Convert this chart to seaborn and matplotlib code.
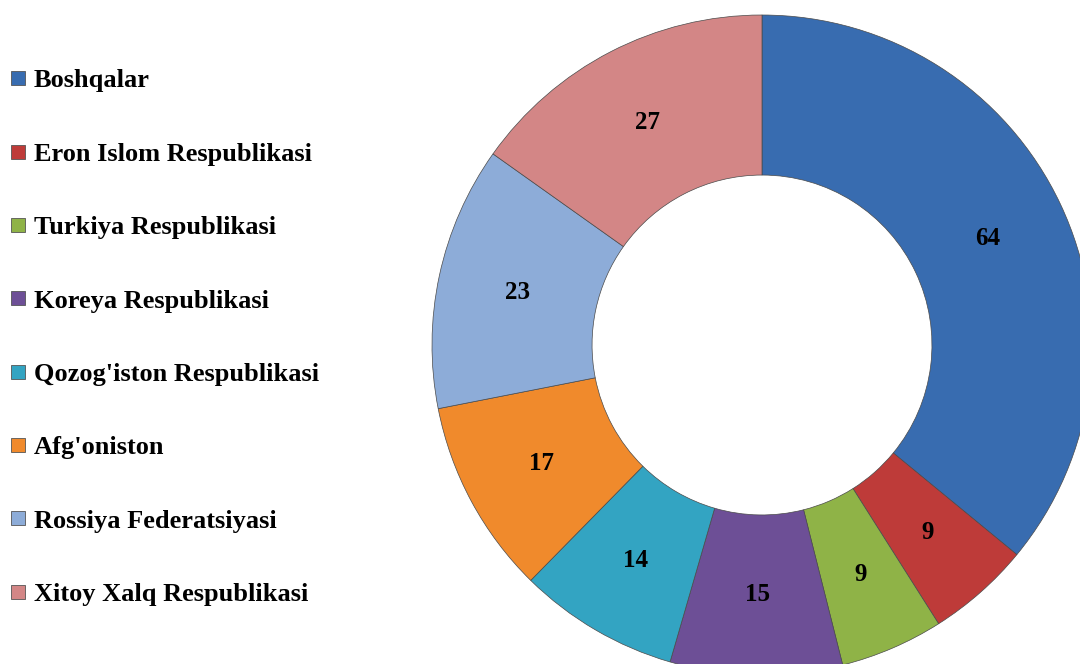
import matplotlib.pyplot as plt
import numpy as np
import seaborn as sns
from matplotlib.lines import Line2D

categories = ["Boshqalar", "Eron Islom Respublikasi", "Turkiya Respublikasi",
              "Koreya Respublikasi", "Qozog'iston Respublikasi", "Afg'oniston",
              "Rossiya Federatsiyasi", "Xitoy Xalq Respublikasi"]
values = [64, 9, 9, 15, 14, 17, 23, 27]
colors = ["#386cb0", "#be3b39", "#8fb347", "#6d4f96", "#33a4c2", "#f08a2c",
          "#8dacd8", "#d38686"]

sns.set_theme(style="white")
plt.rcParams['font.family'] = ['Liberation Serif', 'DejaVu Serif']
plt.rcParams['text.color'] = 'black'

fig = plt.figure(figsize=(10.8, 6.64), dpi=100)
ax = fig.add_axes([432 / 1080, -11 / 664, 660 / 1080, 660 / 664])

wedges, _ = ax.pie(values, colors=colors, startangle=90, counterclock=False,
                   radius=1.0,
                   wedgeprops=dict(width=0.485, edgecolor="#4a4a4a", linewidth=0.5))
ax.set_xlim(-1, 1)
ax.set_ylim(-1, 1)
ax.set_aspect("equal")
ax.axis("off")

# value labels at the middle of the ring
for w, v in zip(wedges, values):
    ang = np.deg2rad((w.theta1 + w.theta2) / 2)
    r = 1.0 - 0.485 / 2
    ax.text(r * np.cos(ang), r * np.sin(ang), str(v), ha="center", va="center",
            fontsize=18, fontweight="bold", color="black")

handles = [Line2D([0], [0], marker="s", linestyle="", markersize=10.5,
                  markerfacecolor=c, markeredgecolor="#555555", markeredgewidth=0.6)
           for c in colors]
leg = fig.legend(handles, categories, loc="upper left", bbox_to_anchor=(0.0, 0.912),
                 frameon=False, prop=dict(size=19, weight="bold"),
                 handlelength=0.6, handletextpad=0.28, labelspacing=1.89,
                 borderaxespad=0.0, labelcolor="black")

fig.savefig("out.png", dpi=100)
